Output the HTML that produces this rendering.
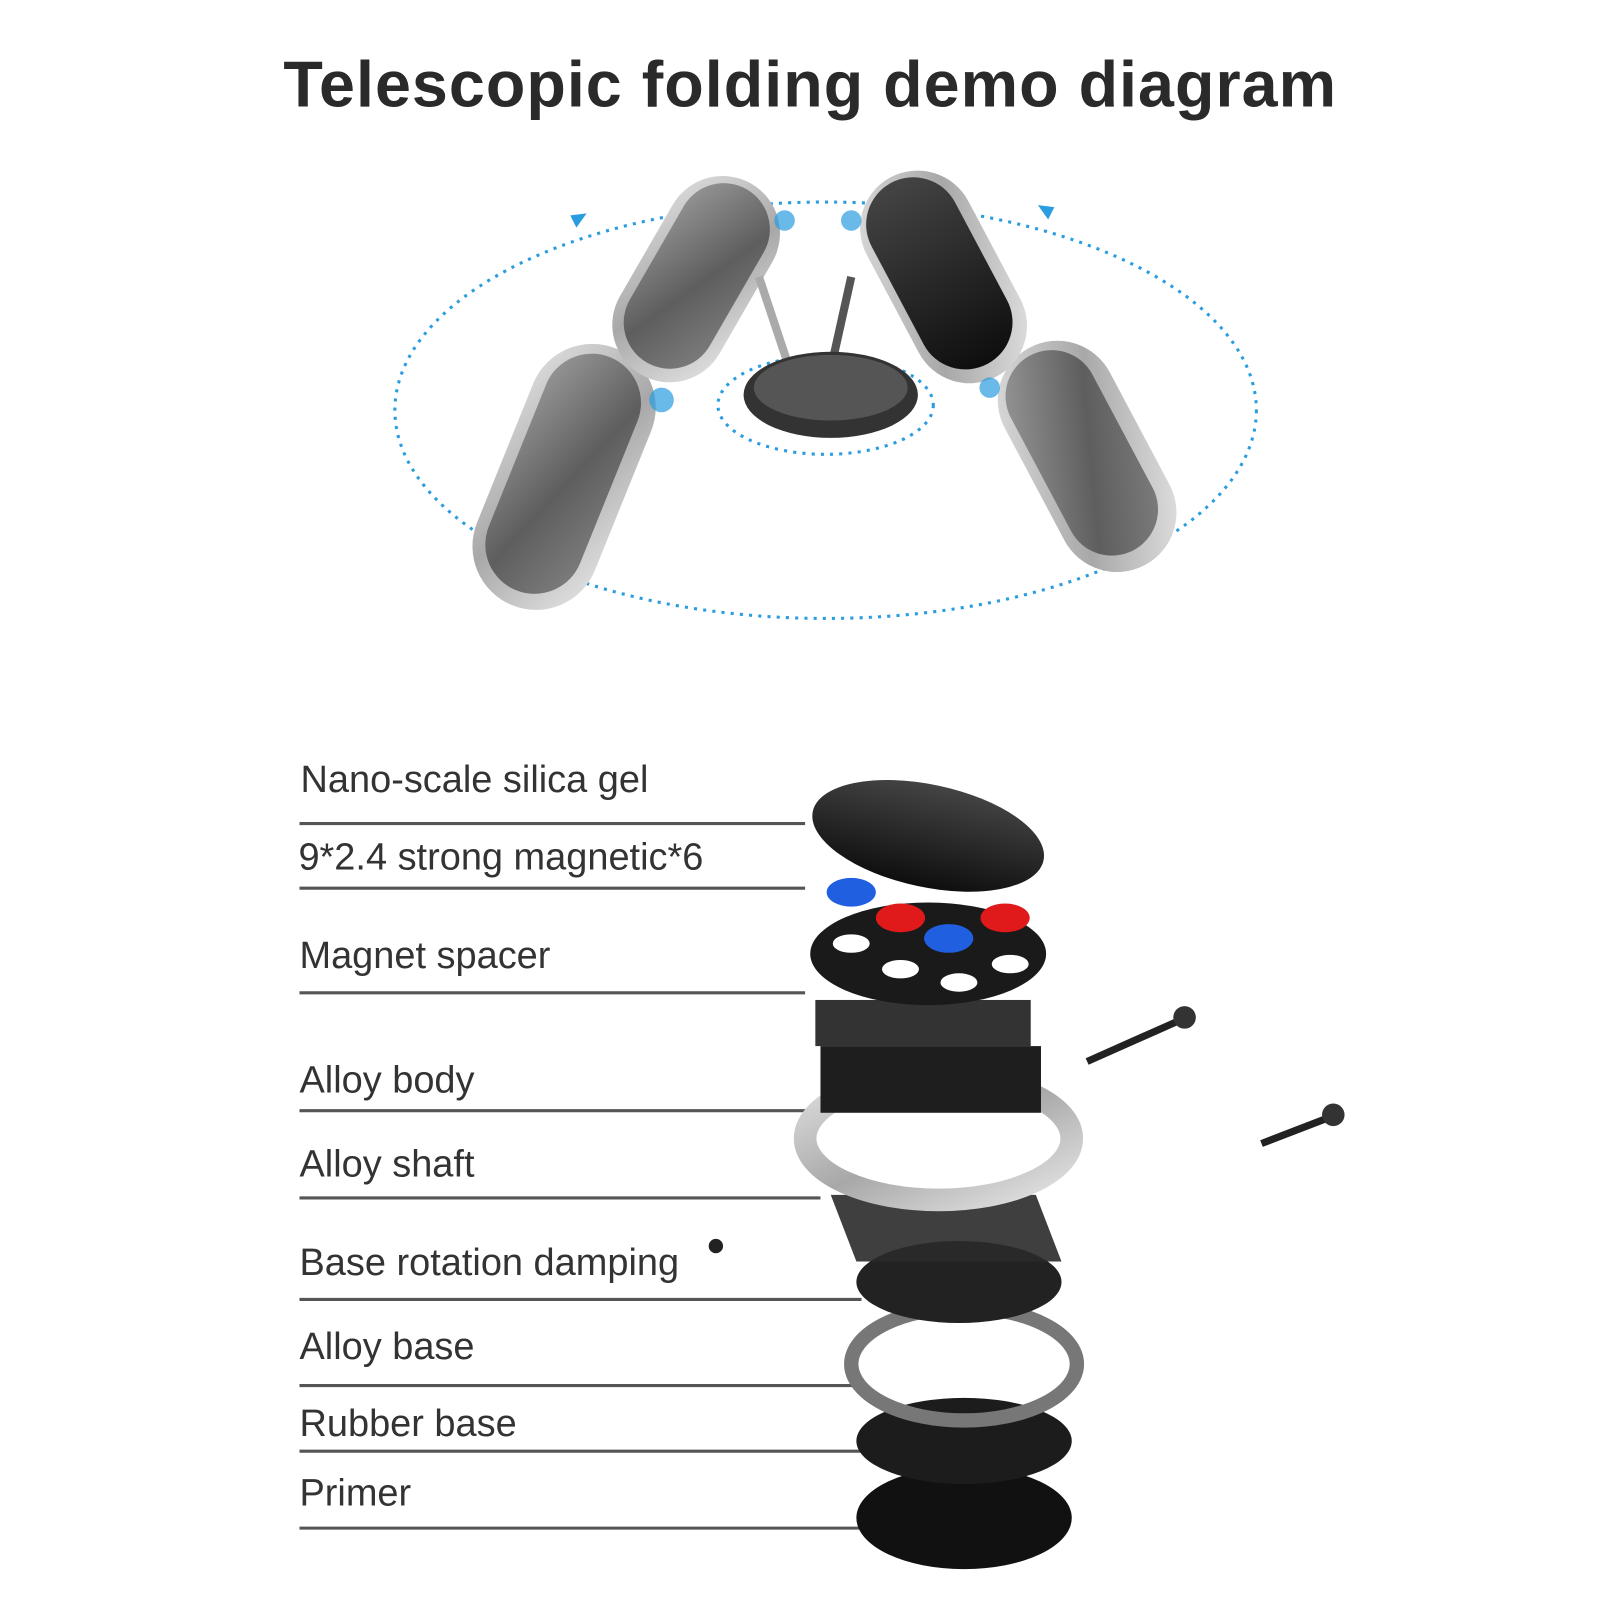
<!DOCTYPE html>
<html><head><meta charset="utf-8"><style>
html,body{margin:0;padding:0;background:#fff;}
svg{display:block}
</style></head><body>
<svg width="1600" height="1600" viewBox="0 0 1600 1600" xmlns="http://www.w3.org/2000/svg">
<defs>
<linearGradient id="sil" x1="0" y1="0" x2="1" y2="1"><stop offset="0" stop-color="#e0e0e0"/><stop offset=".5" stop-color="#a8a8a8"/><stop offset="1" stop-color="#e6e6e6"/></linearGradient>
<linearGradient id="gry" x1="0" y1="0" x2="1" y2="1"><stop offset="0" stop-color="#9a9a9a"/><stop offset=".55" stop-color="#5e5e5e"/><stop offset="1" stop-color="#808080"/></linearGradient>
<linearGradient id="blk" x1="0" y1="0" x2="0" y2="1"><stop offset="0" stop-color="#444"/><stop offset="1" stop-color="#0e0e0e"/></linearGradient>
</defs>
<g transform="scale(1.0256)">
<text x="790" y="104" text-anchor="middle" font-family="Liberation Sans, sans-serif" font-weight="bold" font-size="63" letter-spacing="1" fill="#2a2a2a">Telescopic folding demo diagram</text>

<!-- dotted orbit -->
<ellipse cx="805" cy="400" rx="420" ry="203" fill="none" stroke="#2a9de0" stroke-width="3" stroke-dasharray="3 6"/>
<ellipse cx="805" cy="395" rx="105" ry="48" fill="none" stroke="#2a9de0" stroke-width="3" stroke-dasharray="3 6"/>
<polygon points="572,208 556,210 562,222" fill="#2a9de0"/>
<polygon points="1012,200 1028,202 1022,214" fill="#2a9de0"/>

<!-- paddles -->
<g transform="rotate(22 550 465)"><rect x="488" y="330" width="124" height="270" rx="62" fill="url(#sil)"/><rect x="500" y="340" width="96" height="245" rx="48" fill="url(#gry)"/></g>
<g transform="rotate(30 680 270)"><rect x="624" y="165" width="112" height="215" rx="56" fill="url(#sil)"/><rect x="634" y="172" width="90" height="195" rx="45" fill="url(#gry)"/></g>
<g transform="rotate(-28 1060 445)"><rect x="1002" y="325" width="116" height="240" rx="58" fill="url(#sil)"/><rect x="1012" y="332" width="90" height="215" rx="45" fill="url(#gry)"/></g>
<g transform="rotate(-28 920 270)"><rect x="864" y="160" width="112" height="220" rx="56" fill="url(#sil)"/><rect x="872" y="165" width="92" height="200" rx="46" fill="url(#blk)"/></g>
<line x1="740" y1="270" x2="770" y2="360" stroke="#aaa" stroke-width="8"/>
<line x1="830" y1="270" x2="810" y2="360" stroke="#555" stroke-width="8"/>
<ellipse cx="810" cy="385" rx="85" ry="42" fill="#333"/>
<ellipse cx="810" cy="378" rx="75" ry="32" fill="#555"/>
<circle cx="645" cy="390" r="12" fill="#2a9de0" opacity=".7"/>
<circle cx="765" cy="215" r="10" fill="#2a9de0" opacity=".7"/>
<circle cx="830" cy="215" r="10" fill="#2a9de0" opacity=".7"/>
<circle cx="965" cy="378" r="10" fill="#2a9de0" opacity=".7"/>

<!-- labels -->
<g font-family="Liberation Sans, sans-serif" font-size="37" fill="#333">
<text x="293" y="772">Nano-scale silica gel</text>
<text x="291" y="848">9*2.4 strong magnetic*6</text>
<text x="292" y="944">Magnet spacer</text>
<text x="292" y="1065">Alloy body</text>
<text x="292" y="1147">Alloy shaft</text>
<text x="292" y="1243">Base rotation damping</text>
<text x="292" y="1325">Alloy base</text>
<text x="292" y="1400">Rubber base</text>
<text x="292" y="1468">Primer</text>
</g>
<g stroke="#555" stroke-width="3">
<line x1="292" y1="803" x2="785" y2="803"/>
<line x1="292" y1="866" x2="785" y2="866"/>
<line x1="292" y1="968" x2="785" y2="968"/>
<line x1="292" y1="1083" x2="790" y2="1083"/>
<line x1="292" y1="1168" x2="800" y2="1168"/>
<line x1="292" y1="1267" x2="840" y2="1267"/>
<line x1="292" y1="1351" x2="840" y2="1351"/>
<line x1="292" y1="1415" x2="840" y2="1415"/>
<line x1="292" y1="1490" x2="850" y2="1490"/>
</g>

<!-- exploded product -->
<ellipse cx="940" cy="1480" rx="105" ry="50" fill="#111"/>
<ellipse cx="940" cy="1405" rx="105" ry="42" fill="#1c1c1c"/>
<ellipse cx="940" cy="1330" rx="110" ry="55" fill="none" stroke="#777" stroke-width="14"/>
<ellipse cx="935" cy="1250" rx="100" ry="40" fill="#222"/>
<polygon points="810,1165 1010,1165 1035,1230 835,1230" fill="#2a2a2a" opacity=".9"/>
<ellipse cx="915" cy="1110" rx="130" ry="60" fill="none" stroke="url(#sil)" stroke-width="22"/>
<rect x="800" y="1020" width="215" height="65" fill="#1e1e1e"/>
<rect x="795" y="975" width="210" height="45" fill="#333"/>
<ellipse cx="905" cy="930" rx="115" ry="50" fill="#1a1a1a"/>
<g fill="#fff"><ellipse cx="830" cy="920" rx="18" ry="9"/><ellipse cx="878" cy="945" rx="18" ry="9"/><ellipse cx="935" cy="958" rx="18" ry="9"/><ellipse cx="985" cy="940" rx="18" ry="9"/></g>
<ellipse cx="830" cy="870" rx="24" ry="14" fill="#1f5fe0"/>
<ellipse cx="878" cy="895" rx="24" ry="14" fill="#e01a1a"/>
<ellipse cx="925" cy="915" rx="24" ry="14" fill="#1f5fe0"/>
<ellipse cx="980" cy="895" rx="24" ry="14" fill="#e01a1a"/>
<ellipse cx="905" cy="815" rx="115" ry="50" fill="url(#blk)" transform="rotate(12 905 815)"/>
<line x1="1060" y1="1035" x2="1150" y2="995" stroke="#222" stroke-width="7"/>
<circle cx="1155" cy="992" r="11" fill="#333"/>
<line x1="1230" y1="1115" x2="1295" y2="1090" stroke="#222" stroke-width="7"/>
<circle cx="1300" cy="1087" r="11" fill="#333"/>
<circle cx="698" cy="1215" r="7" fill="#222"/>
</g>
</svg>
</body></html>
